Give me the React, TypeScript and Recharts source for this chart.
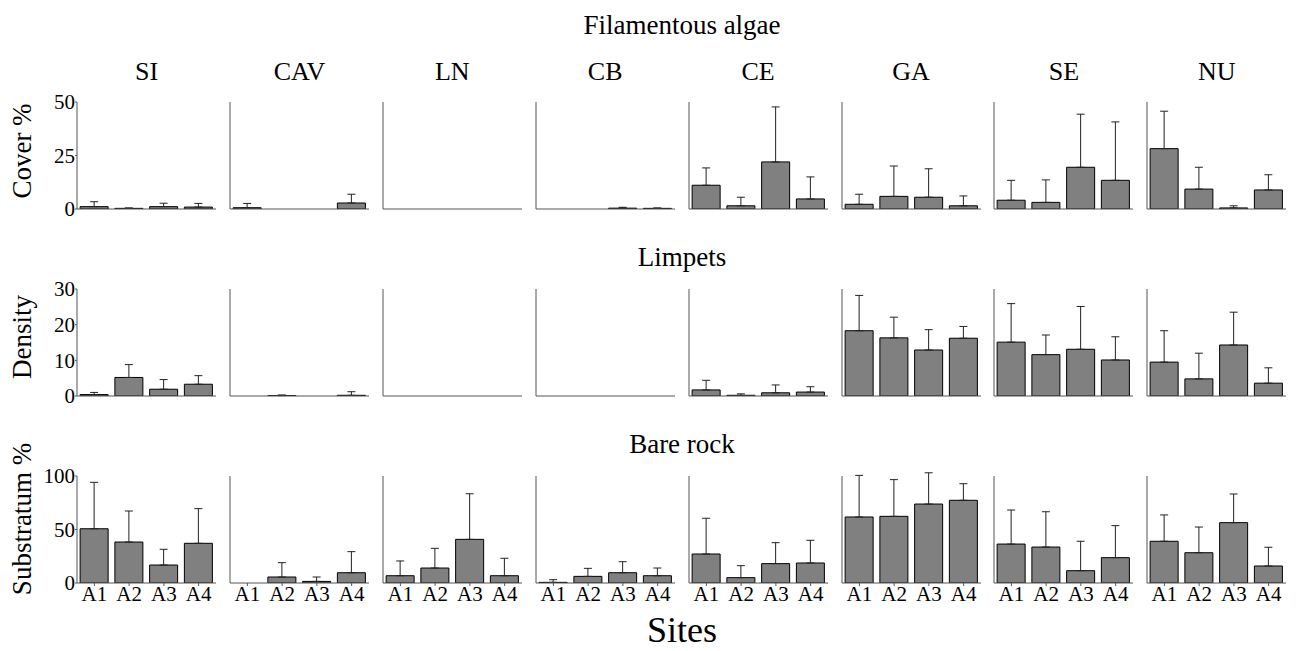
import { BarChart, Bar, XAxis, YAxis, ErrorBar } from 'recharts';

const sites = ['SI', 'CAV', 'LN', 'CB', 'CE', 'GA', 'SE', 'NU'];
const areas = ['A1', 'A2', 'A3', 'A4'];

// Filamentous algae, cover % (mean and upper error per site, A1..A4)
const coverMean = [
  [1.1, 0.3, 1.1, 0.9],
  [0.6, 0, 0, 2.8],
  [0, 0, 0, 0],
  [0, 0, 0.4, 0.3],
  [11.1, 1.5, 22.0, 4.7],
  [2.2, 5.9, 5.5, 1.5],
  [4.1, 3.1, 19.5, 13.4],
  [28.2, 9.3, 0.5, 8.9],
];
const coverErr = [
  [2.3, 0.2, 1.6, 1.7],
  [2.0, 0, 0, 4.1],
  [0, 0, 0, 0],
  [0, 0, 0.4, 0.2],
  [8.1, 4.0, 25.7, 10.3],
  [4.7, 14.2, 13.3, 4.6],
  [9.3, 10.5, 24.8, 27.3],
  [17.5, 10.2, 1.0, 7.1],
];

// Limpets, density
const densityMean = [
  [0.4, 5.2, 1.9, 3.3],
  [0, 0.1, 0, 0.2],
  [0, 0, 0, 0],
  [0, 0, 0, 0],
  [1.7, 0.2, 0.9, 1.1],
  [18.3, 16.3, 12.9, 16.2],
  [15.1, 11.6, 13.1, 10.1],
  [9.5, 4.8, 14.3, 3.6],
];
const densityErr = [
  [0.6, 3.6, 2.7, 2.4],
  [0, 0.2, 0, 1.0],
  [0, 0, 0, 0],
  [0, 0, 0, 0],
  [2.7, 0.4, 2.2, 1.5],
  [9.9, 5.8, 5.7, 3.3],
  [10.8, 5.5, 12.0, 6.5],
  [8.8, 7.2, 9.2, 4.3],
];

// Bare rock, substratum %
const bareMean = [
  [50.7, 38.3, 16.8, 37.1],
  [0, 5.6, 1.5, 9.6],
  [6.8, 14.0, 40.8, 6.8],
  [0.6, 6.2, 9.6, 6.8],
  [27.1, 5.0, 18.1, 18.7],
  [61.7, 62.3, 73.8, 77.3],
  [36.4, 33.6, 11.5, 23.7],
  [39.0, 28.3, 56.4, 15.9],
];
const bareErr = [
  [43.4, 29.0, 14.7, 32.4],
  [0, 13.4, 4.1, 19.7],
  [13.8, 18.4, 42.6, 16.3],
  [2.5, 7.5, 10.3, 7.2],
  [33.4, 11.2, 19.6, 21.2],
  [38.9, 34.3, 29.2, 15.5],
  [31.8, 33.0, 27.5, 29.9],
  [24.6, 24.0, 26.8, 17.5],
];

const coverTicks = [0, 25, 50];
const coverMinor = [0, 5, 10, 15, 20, 25, 30, 35, 40, 45, 50];
const densityTicks = [0, 10, 20, 30];
const densityMinor = [0, 2.5, 5, 7.5, 10, 12.5, 15, 17.5, 20, 22.5, 25, 27.5, 30];
const bareTicks = [0, 50, 100];
const bareMinor = [0, 10, 20, 30, 40, 50, 60, 70, 80, 90, 100];

const FONT = '"Liberation Serif", "Times New Roman", Times, serif';
const AXIS = '#555';
const YW = 40; // y axis width
const PW = 139; // plot width
const PH = 107; // plot height
const TOP = 14;

const colX = (i: number) => 77 + i * 152.9;

const rows = [
  { title: 'Filamentous algae', titleY: 34, yLabel: 'Cover %', labelY: 151, top: 102, max: 50, mean: coverMean, err: coverErr, ticks: coverTicks, minor: coverMinor },
  { title: 'Limpets', titleY: 266, yLabel: 'Density', labelY: 337, top: 289, max: 30, mean: densityMean, err: densityErr, ticks: densityTicks, minor: densityMinor },
  { title: 'Bare rock', titleY: 453, yLabel: 'Substratum %', labelY: 519, top: 476, max: 100, mean: bareMean, err: bareErr, ticks: bareTicks, minor: bareMinor },
];

function Panel({ left, top, means, errs, max, ticks, yLabels, xLabels }: any) {
  const data = areas.map((a, i) => ({
    area: a,
    value: means[i],
    err: errs[i] > 0 ? [0, errs[i]] : null,
  }));
  return (
    <div style={{ position: 'absolute', left, top }}>
      <BarChart
        width={YW + PW + 6}
        height={TOP + PH + 30}
        data={data}
        margin={{ top: TOP, right: 6, left: 0, bottom: 0 }}
        barCategoryGap="9%"
      >
        <XAxis
          dataKey="area"
          height={30}
          stroke={AXIS}
          tickSize={3}
          tickMargin={0}
          interval={0}
          tick={xLabels ? { fill: '#000', fontSize: 21, fontFamily: FONT } : false}
        />
        <YAxis
          type="number"
          domain={[0, max]}
          ticks={ticks}
          allowDataOverflow
          width={YW}
          stroke={AXIS}
          tickSize={yLabels ? 2 : 3}
          tickMargin={0}
          interval={0}
          tick={yLabels ? { fill: '#000', fontSize: 21, fontFamily: FONT } : false}
        />
        <Bar dataKey="value" fill="#808080" stroke="#000" strokeWidth={1} isAnimationActive={false}>
          <ErrorBar dataKey="err" width={4} stroke="#222" strokeWidth={1} direction="y" />
        </Bar>
      </BarChart>
    </div>
  );
}

export default function App() {
  return (
    <div style={{ position: 'absolute', left: 0, top: 0, width: 1300, height: 651, background: '#fff' }}>
      {rows.map((row, r) =>
        sites.map((s, c) => (
          <Panel
            key={`${r}-${s}`}
            left={colX(c) - YW}
            top={row.top - TOP}
            means={row.mean[c]}
            errs={row.err[c]}
            max={row.max}
            ticks={c === 0 ? row.ticks : row.minor}
            yLabels={c === 0}
            xLabels={r === 2}
          />
        ))
      )}
      <svg
        width={1300}
        height={651}
        style={{ position: 'absolute', left: 0, top: 0, pointerEvents: 'none' }}
        fontFamily={FONT}
      >
        {rows.map((row) => (
          <g key={row.title}>
            <text x={682} y={row.titleY} textAnchor="middle" fontSize={27} fill="#000">
              {row.title}
            </text>
            <text
              x={31}
              y={row.labelY}
              textAnchor="middle"
              fontSize={27}
              fill="#000"
              transform={`rotate(-90, 31, ${row.labelY})`}
            >
              {row.yLabel}
            </text>
          </g>
        ))}
        {sites.map((s, c) => (
          <text key={s} x={colX(c) + PW / 2} y={80} textAnchor="middle" fontSize={26} fill="#000">
            {s}
          </text>
        ))}
        <text x={682} y={642} textAnchor="middle" fontSize={36} fill="#000">
          Sites
        </text>
      </svg>
    </div>
  );
}
